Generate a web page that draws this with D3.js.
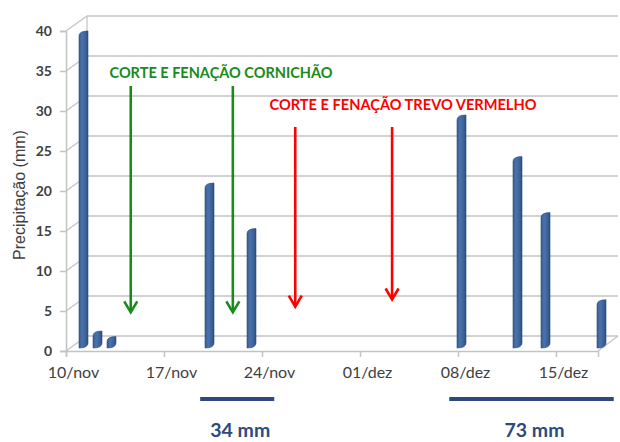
<!DOCTYPE html>
<html><head><meta charset="utf-8">
<script src="https://cdn.jsdelivr.net/npm/d3@7"></script>
<style>body{margin:0;background:#fff}svg{display:block}</style>
</head><body>
<svg id="c" width="620" height="442"></svg>
<script>
const barDates = ["2010-11-10","2010-11-11","2010-11-12","2010-11-19","2010-11-22","2010-12-07","2010-12-11","2010-12-13","2010-12-17"];
const barValues = [39, 1.5, 0.8, 20, 14.3, 28.5, 23.3, 16.3, 5.4];
const tickDates = ["2010-11-10","2010-11-17","2010-11-24","2010-12-01","2010-12-08","2010-12-15"];
const tickLabels = ["10/nov","17/nov","24/nov","01/dez","08/dez","15/dez"];
const yTicks = [0,5,10,15,20,25,30,35,40];
const greenArrowDates = ["2010-11-14T15:00","2010-11-21T22:00"];
const greenArrowTips = [3.9, 3.9];
const redArrowDates = ["2010-11-26T09:00","2010-12-03T07:00"];
const redArrowTips = [4.6, 5.5];
const totals = [{label:"34 mm", from:"2010-11-19T14:00", to:"2010-11-24T21:00"},{label:"73 mm", from:"2010-12-07T09:00", to:"2010-12-19T03:00"}];

const parse = s => d3.isoParse(s + (s.length > 10 ? ":00Z" : "T00:00:00Z"));
const svg = d3.select("#c");
const DX = 21, DY = -15;
const x = d3.scaleUtc().domain([parse("2010-11-10"), parse("2010-12-18")]).range([66, 598]);
const y = d3.scaleLinear().domain([0,40]).range([351, 31]);
const grid = "#c3c3c3";
const font = "Lato, 'Open Sans', sans-serif";

const defs = svg.append("defs");
const g = defs.append("linearGradient").attr("id","bar").attr("x1","0").attr("x2","1").attr("y1","0").attr("y2","0");
g.append("stop").attr("offset","0").attr("stop-color","#3a5f93");
g.append("stop").attr("offset","0.35").attr("stop-color","#4a73ab");
g.append("stop").attr("offset","0.75").attr("stop-color","#3b6298");
g.append("stop").attr("offset","1").attr("stop-color","#2c4d7d");

// back wall gridlines
svg.append("g").selectAll("line").data(yTicks).join("line")
  .attr("x1", x.range()[0]+DX).attr("x2", 618)
  .attr("y1", d=>y(d)+DY).attr("y2", d=>y(d)+DY)
  .attr("stroke", grid).attr("stroke-width",1.5);
// side wall diagonals
svg.append("g").selectAll("line").data(yTicks).join("line")
  .attr("x1", x.range()[0]).attr("x2", x.range()[0]+DX)
  .attr("y1", d=>y(d)).attr("y2", d=>y(d)+DY)
  .attr("stroke", grid).attr("stroke-width",1.2);
svg.append("line").attr("x1",x.range()[0]+DX).attr("x2",x.range()[0]+DX).attr("y1",y(0)+DY).attr("y2",y(40)+DY).attr("stroke",grid).attr("stroke-width",1.2);
svg.append("line").attr("x1",x.range()[1]).attr("x2",x.range()[1]+DX-1).attr("y1",y(0)).attr("y2",y(0)+DY).attr("stroke",grid).attr("stroke-width",1.2);

// y axis
const ya = svg.append("g").attr("transform",`translate(${x.range()[0]},0)`)
  .call(d3.axisLeft(y).tickValues(yTicks).tickSize(6).tickPadding(8));
ya.select(".domain").attr("stroke",grid).attr("stroke-width",1.5);
ya.selectAll(".tick line").attr("stroke",grid).attr("stroke-width",1.5);
ya.selectAll("text").attr("font-family",font).attr("font-size",14).attr("fill","#404040").attr("font-weight","bold");

// x axis
const xa = svg.append("g").attr("transform",`translate(0,${y(0)})`)
  .call(d3.axisBottom(x).tickValues(tickDates.map(parse)).tickFormat((d,i)=>tickLabels[i]).tickSize(6).tickPadding(10));
xa.select(".domain").attr("stroke",grid).attr("stroke-width",1.5);
xa.selectAll(".tick line").attr("stroke",grid).attr("stroke-width",1.5);
xa.selectAll("text").attr("font-family",font).attr("font-size",16).attr("fill","#404040").attr("dx",7);

// bars (cylinders at mid depth)
const dayW = x(parse("2010-11-11")) - x(parse("2010-11-10"));
const bw = 9;
svg.append("g").selectAll("path").data(barDates.map((d,i)=>({d:parse(d), v:barValues[i]}))).join("path")
  .attr("d", b => {
    const cx = x(b.d) + dayW/2 + DX/2;
    const x0 = cx - bw/2, x1 = cx + bw/2;
    const yb = y(0) + DY/2 + 2, yt = y(b.v) + DY/2 + 2;
    const s = 2.5;
    return `M${x0},${yb+s} L${x0},${yt+s} Q${x0},${yt-s} ${x1},${yt-s} L${x1},${yb-s} Q${x1},${yb+s} ${x0},${yb+s} Z`;
  })
  .attr("fill","url(#bar)").attr("stroke","#2b4a78").attr("stroke-width",0.6);

// arrows
function arrow(dateStr, tipVal, y1, color) {
  const ax = x(parse(dateStr));
  const y2 = y(tipVal) + DY/2;
  const ga = svg.append("g").attr("stroke",color).attr("stroke-width",2.6).attr("fill","none");
  ga.append("line").attr("x1",ax).attr("x2",ax).attr("y1",y1).attr("y2",y2-1);
  ga.append("path").attr("d",`M${ax-6.5},${y2-11} L${ax},${y2} L${ax+6.5},${y2-11}`);
}
greenArrowDates.forEach((d,i)=>arrow(d, greenArrowTips[i], 86, "#1a8a1a"));
redArrowDates.forEach((d,i)=>arrow(d, redArrowTips[i], 127, "#ff0000"));

svg.append("text").attr("x",221).attr("y",78).attr("text-anchor","middle")
  .attr("font-family",font).attr("font-weight","bold").attr("font-size",15)
  .attr("fill","#1a8a1a").attr("textLength",223).attr("lengthAdjust","spacingAndGlyphs")
  .text("CORTE E FENAÇÃO CORNICHÃO");
svg.append("text").attr("x",403).attr("y",110).attr("text-anchor","middle")
  .attr("font-family",font).attr("font-weight","bold").attr("font-size",15)
  .attr("fill","#ff0000").attr("textLength",267).attr("lengthAdjust","spacingAndGlyphs")
  .text("CORTE E FENAÇÃO TREVO VERMELHO");

// y label
svg.append("text").attr("transform","translate(25,195) rotate(-90)").attr("text-anchor","middle")
  .attr("font-family","'Liberation Sans', Arial, sans-serif").attr("font-size",16).attr("fill","#404040")
  .text("Precipitação (mm)");

// totals
const tg = svg.append("g").selectAll("g").data(totals).join("g");
tg.append("line").attr("x1",d=>x(parse(d.from))).attr("x2",d=>x(parse(d.to)))
  .attr("y1",399).attr("y2",399).attr("stroke","#2c4a7c").attr("stroke-width",4);
tg.append("text").attr("x",d=>(x(parse(d.from))+x(parse(d.to)))/2 + 3).attr("y",437)
  .attr("text-anchor","middle").attr("font-family",font).attr("font-weight","bold")
  .attr("font-size",19.5).attr("fill","#2c4a7c").text(d=>d.label);
</script>
</body></html>
